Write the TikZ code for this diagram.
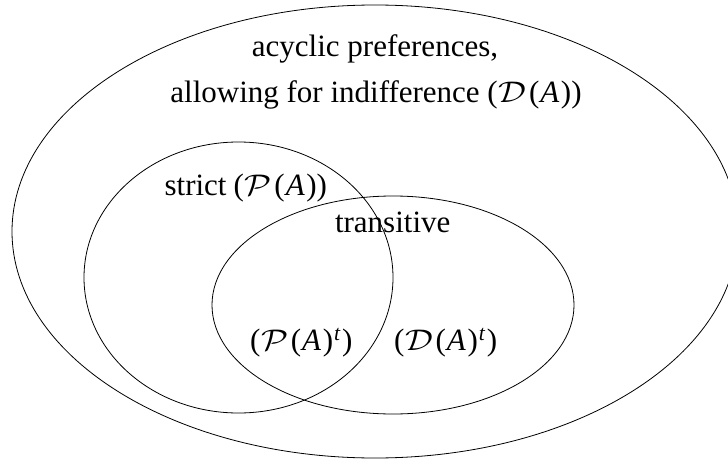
\documentclass[tikz,border=0pt]{standalone}
\usepackage{fontspec}
\usepackage{graphicx}
\setmainfont{Liberation Serif}
\newcommand\myP{\kern1pt\scalebox{1.4}[1.2]{$\mathcal{P}$}\kern2.5pt}
\newcommand\myD{\kern1pt\scalebox{1.4}[1.2]{$\mathcal{D}$}\kern2.5pt}
\newcommand\myA{\kern1pt\textit{A}\kern1.5pt}
\newcommand\myT{\textsuperscript{\kern1pt\textit{t}\kern1pt}}
\begin{document}
\begin{tikzpicture}[x=1pt,y=-1pt,
  setline/.style={line width=0.8pt,draw=black},
  lbl/.style={inner sep=0pt,outer sep=0pt,font=\fontsize{31}{45}\selectfont}]
\useasboundingbox (0,0) rectangle (728,460);
\clip (0,0) rectangle (728,460);
\coordinate (cD) at (375,231.5);
\coordinate (cP) at (238.5,277.5);
\coordinate (cT) at (393,305);
\draw[setline] (cD) ellipse [x radius=363pt, y radius=226.5pt];
\draw[setline] (cP) ellipse [x radius=154.5pt, y radius=135.5pt];
\draw[setline] (cT) ellipse [x radius=181pt, y radius=109pt];
\node[lbl,anchor=base] (l1) at (375,57) {acyclic preferences,};
\node[lbl,anchor=base] (l2) at (376,102) {allowing for indifference (\myD(\myA))};
\node[lbl,anchor=base east] (strict) at (327,195) {strict\kern7pt(\myP(\myA))};
\node[lbl,anchor=base west] (trans) at (335,232) {transitive};
\node[lbl,anchor=base west] (pt) at (250,350) {(\myP(\myA)\myT)};
\node[lbl,anchor=base west] (dt) at (394,350) {(\myD(\myA)\myT)};
\end{tikzpicture}
\end{document}
